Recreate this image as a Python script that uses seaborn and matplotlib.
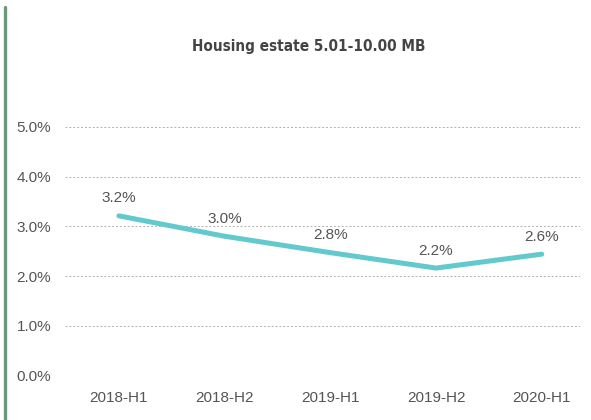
import matplotlib
matplotlib.use("Agg")
import matplotlib.pyplot as plt
from matplotlib.lines import Line2D
import seaborn as sns
import pandas as pd

# dati
periods = ["2018-H1", "2018-H2", "2019-H1", "2019-H2", "2020-H1"]
rate = [3.21, 2.80, 2.47, 2.16, 2.44]
rate_labels = ["3.2%", "3.0%", "2.8%", "2.2%", "2.6%"]
y_ticks = [0, 1, 2, 3, 4, 5]

df = pd.DataFrame({"period": periods, "rate": rate})
df["pos"] = range(len(df))

sns.set_style("white")
plt.rcParams["font.family"] = ["Liberation Sans", "DejaVu Sans"]

fig = plt.figure(figsize=(5.91, 4.20), dpi=100)
ax = fig.add_axes([0.110, 0.106, 0.871, 0.592])

sns.lineplot(data=df, x="pos", y="rate", ax=ax, color="#62c9cd", linewidth=3.6,
             solid_capstyle="round", solid_joinstyle="miter")

for i, (v, lab) in enumerate(zip(rate, rate_labels)):
    ax.annotate(lab, (i, v), xytext=(0, 12.5), textcoords="offset points",
                ha="center", va="center", fontsize=11, color="#555555")

ax.set_ylim(0, 5)
ax.set_xlim(-0.51, 4.36)
ax.set_yticks(y_ticks)
ax.set_yticklabels([f"{t:.1f}%" for t in y_ticks], fontsize=11, color="#555555")
ax.set_xticks(range(len(periods)))
ax.set_xticklabels(periods, fontsize=11, color="#555555")
ax.tick_params(axis="both", length=0)
ax.tick_params(axis="y", pad=10)
ax.tick_params(axis="x", pad=11)
ax.set_xlabel("")
ax.set_ylabel("")
ax.grid(axis="y", color="#b0b0b0", linestyle=(0, (2, 2)), linewidth=0.7)
ax.set_axisbelow(True)
for s in ax.spines.values():
    s.set_visible(False)

fig.text(0.522, 0.890, "Housing estate 5.01-10.00 MB", ha="center", va="center",
         fontsize=11, fontweight="bold", fontstretch="condensed", color="#444444",
         family=["DejaVu Sans"])

# barra verde a sinistra
fig.add_artist(Line2D([0.0093, 0.0093], [0.0, 0.984], color="#6b9a7b", linewidth=2.4,
                      transform=fig.transFigure))

fig.savefig("out.png", dpi=100)
